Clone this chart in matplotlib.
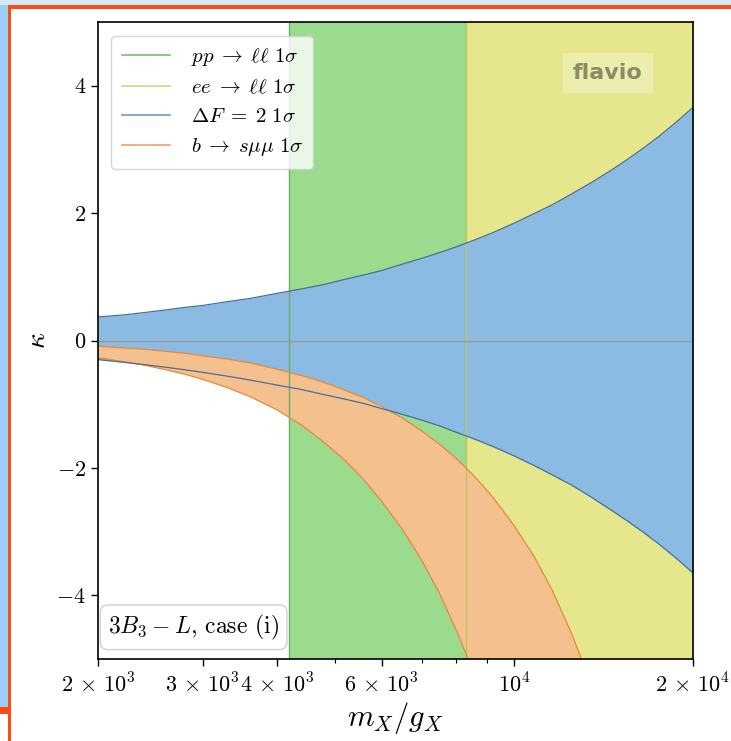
import numpy as np
import matplotlib
matplotlib.use("Agg")
import matplotlib.pyplot as plt
from matplotlib.lines import Line2D
from matplotlib.patches import Rectangle

plt.rcParams['mathtext.fontset'] = 'cm'
plt.rcParams['font.family'] = 'serif'
plt.rcParams['font.serif'] = ['cmr10', 'DejaVu Serif']
plt.rcParams['axes.formatter.use_mathtext'] = True
plt.rcParams['axes.unicode_minus'] = False

# 1 sigma bands, kappa vs m_X / g_X
x_min, x_max = 2e3, 2e4
y_min, y_max = -5.0, 5.0

pp_lo = 4190.0   # pp -> ll allowed above this
ee_lo = 8300.0   # ee -> ll allowed above this

df2_x = [2000, 2200, 2400, 2600, 2800, 3000, 3300, 3600, 4000, 4400,
         4800, 5200, 5600, 6000, 6500, 7000, 7500, 8000, 8600, 9200,
         10000, 10800, 11600, 12500, 13500, 14500, 15500, 16500, 17500, 18700,
         20000]
df2_up = [0.37, 0.40, 0.44, 0.48, 0.52, 0.55, 0.61, 0.66, 0.74, 0.81,
          0.88, 0.96, 1.03, 1.10, 1.20, 1.29, 1.38, 1.47, 1.58, 1.69,
          1.84, 1.99, 2.13, 2.30, 2.48, 2.66, 2.84, 3.02, 3.20, 3.42,
          3.66]
df2_dn = [-0.30, -0.34, -0.38, -0.42, -0.46, -0.50, -0.56, -0.62, -0.70, -0.77,
          -0.85, -0.92, -0.99, -1.07, -1.16, -1.25, -1.34, -1.44, -1.55, -1.66,
          -1.81, -1.96, -2.11, -2.27, -2.46, -2.65, -2.83, -3.01, -3.19, -3.41,
          -3.65]

bsmm_x = [2000, 2200, 2400, 2600, 2800, 3000, 3300, 3600, 4000, 4400,
          4800, 5200, 5600, 6000, 6500, 7000, 7500, 8000, 8600, 9200,
          10000, 10800, 11600, 12500, 13500]
bsmm_up = [-0.09, -0.115, -0.14, -0.17, -0.20, -0.24, -0.29, -0.35, -0.45, -0.55,
           -0.66, -0.78, -0.90, -1.04, -1.22, -1.42, -1.63, -1.85, -2.14, -2.45,
           -2.90, -3.38, -3.92, -4.60, -5.40]
bsmm_dn = [-0.27, -0.33, -0.39, -0.46, -0.53, -0.61, -0.74, -0.88, -1.09, -1.33,
           -1.60, -1.88, -2.19, -2.53, -2.97, -3.45, -3.97, -4.55, -5.25, -6.0,
           -7.1, -8.3, -9.6, -11.1, -13.0]

labels = [r'$pp \;\to\; \ell\ell\ 1\sigma$', r'$ee \;\to\; \ell\ell\ 1\sigma$',
          r'$\Delta F \;=\; 2\ 1\sigma$', r'$b \;\to\; s\mu\mu\ 1\sigma$']
fill_cols = ['#9bdb8d', '#e6e68c', '#8bbae2', '#f4c08e']
edge_cols = ['#6aaa62', '#bcc564', '#46709a', '#e8893c']
leg_cols = ['#7cbc70', '#cfd583', '#6f9cc8', '#eda06a']

W, H = 731, 741
fig = plt.figure(figsize=(W / 100, H / 100), dpi=100)
ax = fig.add_axes([98 / W, 1 - 659 / H, 595 / W, 637 / H])
ax.set_xscale('log')

# fills first
ax.axvspan(pp_lo, x_max, color=fill_cols[0], lw=0, zorder=1)
ax.axvspan(ee_lo, x_max, color=fill_cols[1], lw=0, zorder=1.1)
ax.fill_between(df2_x, df2_dn, df2_up, color=fill_cols[2], lw=0, zorder=1.2)
ax.fill_between(bsmm_x, bsmm_dn, bsmm_up, color=fill_cols[3], lw=0, zorder=1.3)

# then contour edges on top
ax.axvline(pp_lo, color=edge_cols[0], lw=1.0, zorder=2)
ax.axvline(ee_lo, color=edge_cols[1], lw=1.0, zorder=2)
ax.plot(df2_x, df2_up, color=edge_cols[2], lw=0.9, zorder=2.2)
ax.plot(df2_x, df2_dn, color=edge_cols[2], lw=0.9, zorder=2.2)
ax.plot(bsmm_x, bsmm_up, color=edge_cols[3], lw=0.9, zorder=2.1)
ax.plot(bsmm_x, bsmm_dn, color=edge_cols[3], lw=0.9, zorder=2.1)

ax.axhline(0, color='#9a9a9a', lw=1.0, zorder=2.5)

ax.set_xlim(x_min, x_max)
ax.set_ylim(y_min, y_max)

major = [2e3, 3e3, 4e3, 6e3, 1e4, 2e4]
major_lbl = [r'$2\,\times\,10^{3}$', r'$3\,\times\,10^{3}$', r'$4\,\times\,10^{3}$',
             r'$6\,\times\,10^{3}$', r'$10^{4}$', r'$2\,\times\,10^{4}$']
ax.set_xticks(major, labels=major_lbl)
ax.set_xticks([5e3, 7e3, 8e3, 9e3], minor=True)
ax.xaxis.set_minor_formatter(plt.NullFormatter())
ax.set_yticks([-4, -2, 0, 2, 4])
ax.tick_params(axis='both', which='major', labelsize=16, length=5, width=1)
ax.tick_params(axis='x', which='major', pad=5)
ax.tick_params(axis='x', which='minor', length=3, width=0.8)
for s in ax.spines.values():
    s.set_linewidth(1.2)
    s.set_zorder(5)

ax.set_xlabel(r'$m_X/g_X$', fontsize=22, labelpad=2)
ax.set_ylabel(r'$\kappa$', fontsize=20)

handles = [Line2D([], [], color=c, lw=1.2) for c in leg_cols]
ax.legend(handles, labels, loc='upper left', fontsize=15, handlelength=2.3,
          handletextpad=1.0, borderpad=0.5, labelspacing=0.5, framealpha=0.8,
          fancybox=True, bbox_to_anchor=(0.005, 0.995))

ax.text(0.017, 0.027, r'$3B_3-L$, case (i)', transform=ax.transAxes,
        fontsize=17, ha='left', va='bottom', zorder=6,
        bbox=dict(boxstyle='round,pad=0.33', fc='white', ec='#cccccc', alpha=0.9))

ax.text(0.857, 0.92, 'flavio', transform=ax.transAxes, family='DejaVu Sans',
        fontsize=16, fontweight='bold', color='#6a6a50', alpha=0.75,
        ha='center', va='center', zorder=6,
        bbox=dict(boxstyle='square,pad=0.45', fc='white', ec='none', alpha=0.3))

# window decoration around the figure
fig.add_artist(Rectangle((0, 1 - 5 / H), 1, 5 / H, transform=fig.transFigure,
                         color='#d4eafc', lw=0, zorder=10))
fig.add_artist(Rectangle((8 / W, 1 - 9 / H), 1, 4 / H, transform=fig.transFigure,
                         color='#ff4a14', lw=0, zorder=11))
fig.add_artist(Rectangle((0, 1 - 707 / H), 8 / W, 702 / H, transform=fig.transFigure,
                         color='#9ccdf8', lw=0, zorder=10))
fig.add_artist(Rectangle((0, 1 - 714 / H), 8 / W, 7 / H, transform=fig.transFigure,
                         color='#ff4a14', lw=0, zorder=10))
fig.add_artist(Rectangle((8 / W, 0), 3 / W, 1 - 5 / H, transform=fig.transFigure,
                         color='#ff4a14', lw=0, zorder=11))

fig.savefig('out.png', dpi=100)
